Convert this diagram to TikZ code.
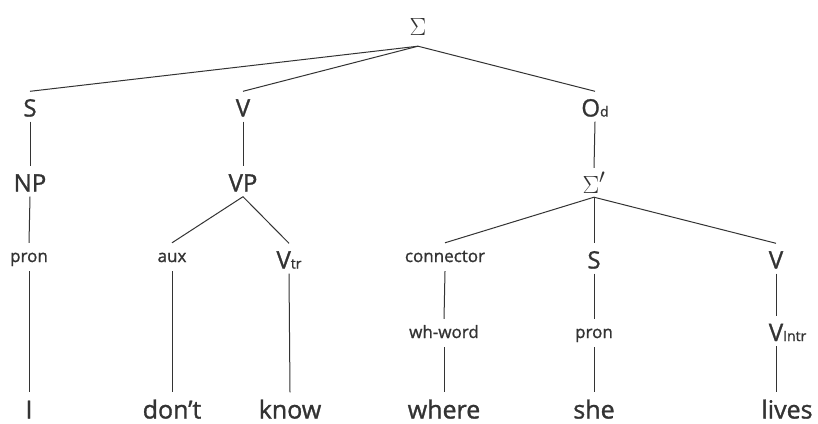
\documentclass[tikz,border=0pt]{standalone}
\usepackage{fontspec}
\setmainfont{Open Sans}[FakeBold=1.2]
\definecolor{ink}{HTML}{333333}
\begin{document}
\begin{tikzpicture}[x=1pt,y=-1pt,
  every node/.style={inner sep=0pt, anchor=base, text=ink},
  big/.style={font=\fontsize{24}{24}\selectfont, text height=25pt, text depth=5pt},
  small/.style={font=\fontsize{17}{17}\selectfont, text height=19pt, text depth=9pt},
  word/.style={font=\fontsize{25}{25}\selectfont, text height=26pt, text depth=0pt},
  sig/.style={font=\fontsize{32}{32}\selectfont, text height=22pt, text depth=11pt},
  sigp/.style={font=\fontsize{28}{28}\selectfont, text height=25pt, text depth=4pt},
  edge/.style={draw=ink, line width=1pt}]
\useasboundingbox[fill=white] (0,0) rectangle (818,423);
\newcommand{\sbx}[1]{{\fontsize{14}{14}\selectfont #1}}
% nodes
\node[sig]  (top) at (418,35) {$\Sigma$};
\node[big]  (S1)  at (30,116.5) {S};
\node[big]  (V1)  at (243,116.5) {V};
\node[big]  (Od)  at (595,116.5) {O\sbx{d}};
\node[big]  (NP)  at (30,191.5) {NP};
\node[big]  (VP)  at (243,191.5) {VP};
\node[sigp] (sp)  at (594,193) {$\Sigma'$};
\node[small] (pr1) at (29,262) {pron};
\node[small] (aux) at (172,262) {aux};
\node[big]   (vtr) at (289,268.5) {V\sbx{tr}};
\node[small] (con) at (445,262) {connector};
\node[big]   (S2)  at (594,268.5) {S};
\node[big]   (V2)  at (776,268.5) {V};
\node[small] (wh)  at (444,338) {wh-word};
\node[small] (pr2) at (594,338) {pron};
\node[big]   (vin) at (776,341) {V\rlap{\sbx{Intr}}};
\node[word] (w1) at (29,418.5) {I};
\node[word] (w2) at (172,418.5) {don’t};
\node[word] (w3) at (290,418.5) {know};
\node[word] (w4) at (444,418.5) {where};
\node[word] (w5) at (594,418.5) {she};
\node[word] (w6) at (787,418.5) {lives};
% connectors
\draw[edge] (top.south) -- (S1.north);
\draw[edge] (top.south) -- (V1.north);
\draw[edge] (top.south) -- (Od.north);
\draw[edge] (S1.south) -- (NP.north);
\draw[edge] (V1.south) -- (VP.north);
\draw[edge] (Od.south) -- (sp.north);
\draw[edge] (NP.south) -- (pr1.north);
\draw[edge] (VP.south) -- (aux.north);
\draw[edge] (VP.south) -- (vtr.north);
\draw[edge] (sp.south) -- (con.north);
\draw[edge] (sp.south) -- (S2.north);
\draw[edge] (sp.south) -- (V2.north);
\draw[edge] (pr1.south) -- (w1.north);
\draw[edge] (aux.south) -- (w2.north);
\draw[edge] (vtr.south) -- (w3.north);
\draw[edge] (con.south) -- (wh.north);
\draw[edge] (wh.south) -- (w4.north);
\draw[edge] (S2.south) -- (pr2.north);
\draw[edge] (pr2.south) -- (w5.north);
\draw[edge] (V2.south) -- (vin.north);
\draw[edge] (vin.south) -- (vin.south |- w6.north);
\end{tikzpicture}
\end{document}
